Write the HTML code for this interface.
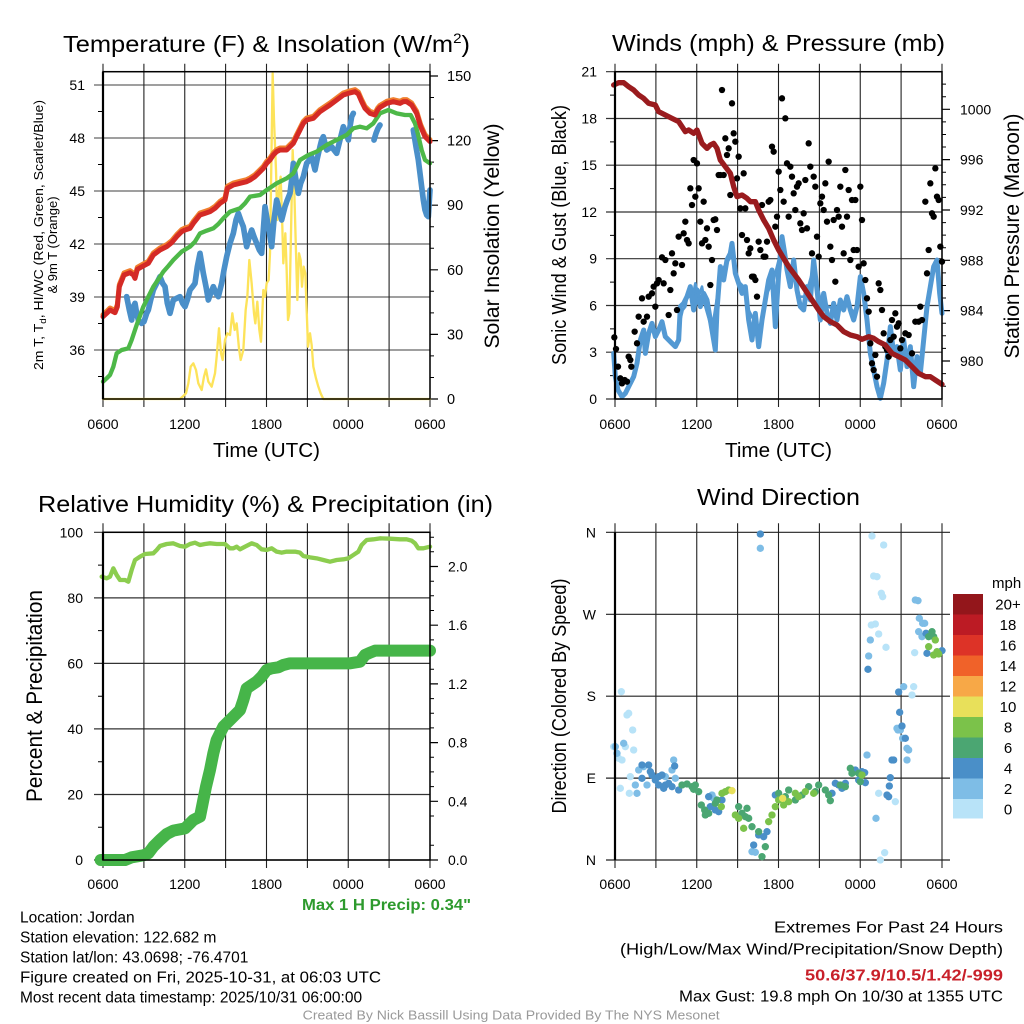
<!DOCTYPE html>
<html><head><meta charset="utf-8"><style>
html,body{margin:0;padding:0;background:#fff;}
svg{display:block;font-family:"Liberation Sans",Arial,sans-serif;}
</style></head><body>
<svg width="1024" height="1024" viewBox="0 0 1024 1024" xmlns="http://www.w3.org/2000/svg">
<rect width="1024" height="1024" fill="#fff"/>

<!-- ============ TOP LEFT: Temperature ============ -->
<g fill="none">
<path stroke="#666" stroke-width="1.3" d="M94 85H430M94 138H430M94 191H430M94 244H430M94 297H430M94 350H430"/>
<path stroke="#000" stroke-width="1" d="M98 111.5H103M98 164.5H103M98 217.5H103M98 270.5H103M98 323.5H103M98 376.5H103"/>
<path stroke="#000" stroke-width="1.2" d="M430 76H438M430 140.6H438M430 205.2H438M430 269.8H438M430 334.4H438M430 399H438"/>
<path stroke="#000" stroke-width="1" d="M430 97.5H434M430 119.1H434M430 162.1H434M430 183.7H434M430 226.7H434M430 248.3H434M430 291.3H434M430 312.9H434M430 355.9H434M430 377.5H434"/>
<path stroke="#222" stroke-width="1.1" d="M103 63.7V407M143.9 63.7V407M184.75 63.7V407M225.6 63.7V407M266.5 63.7V407M307.4 63.7V407M348.25 63.7V407M389.1 63.7V407M430 63.7V407"/>
</g>
<g transform="translate(0,20) scale(0.33333)" fill="none" stroke-linejoin="round" stroke-linecap="round">
<polyline stroke="#fde35a" stroke-width="7" points="309,1137 540,1137 550,1128 558,1120 565,1090 572,1040 580,1030 588,1050 595,1090 605,1110 612,1070 618,1048 625,1085 635,1100 645,1060 650,1010 657,925 663,1000 668,1020 675,960 682,940 690,945 697,880 704,930 710,910 717,985 722,1020 730,990 737,870 742,830 748,720 755,790 762,880 766,910 772,845 778,930 783,965 790,810 795,830 800,790 806,780 810,700 813,500 818,160 822,300 828,450 832,600 838,500 842,470 847,620 850,730 856,640 860,750 864,900 868,880 873,640 878,390 882,480 887,660 892,840 897,700 902,720 906,800 911,740 916,760 920,870 924,980 930,940 935,975 940,1040 948,1075 955,1100 962,1120 970,1137 1290,1137"/>
<g stroke="#4a8fc9" stroke-width="17">
<polyline points="380,830 388,870 395,900 400,860 405,850 410,880 415,900 425,910 432,905 440,880 445,870 452,840 460,810 470,790 480,770 488,790 495,800 502,850 510,880 515,860 520,840 530,835 540,830 548,850 555,860 562,840 570,810 578,800 585,790 592,740 600,700 605,730 610,760 618,800 625,840 632,820 640,800 648,820 655,830 660,810 665,790 672,750 680,710 690,670 700,640 708,600 715,580 722,600 730,620 735,650 740,680 748,650 755,630 762,650 770,670 778,690 785,700 790,630 795,560 800,590 805,620 810,650 815,680 822,600 830,540 838,570 845,600 850,580 855,560 862,540 870,520 875,480 880,430 888,480 895,520 902,490 910,470 915,450 920,430 928,420 935,410 940,430 945,450 952,415 960,380 965,360 970,350 975,370 980,390 988,385 995,380 1002,390 1010,400 1015,380 1020,360 1025,340 1030,320 1038,340 1045,360 1050,320 1055,290 1060,280"/>
<polyline points="1122,360 1128,340 1134,325 1140,315"/>
<polyline points="1240,330 1248,380 1255,420 1260,460 1265,500 1270,540 1275,570 1280,585 1285,590 1290,510"/>
</g>
<polyline stroke="#4db848" stroke-width="13" points="309,1085 320,1075 330,1065 340,1040 350,1000 365,990 385,985 395,960 410,915 430,860 445,830 460,800 475,778 490,755 505,738 520,720 545,695 570,680 585,665 600,640 620,632 640,625 655,612 670,595 690,575 720,565 735,550 750,530 780,525 800,510 815,500 830,490 860,475 880,460 890,440 900,420 925,405 950,395 965,385 980,375 1010,360 1040,345 1060,325 1080,320 1100,325 1120,310 1130,295 1140,280 1165,270 1190,280 1215,285 1232,285 1245,310 1252,335 1258,360 1265,390 1275,420 1290,430"/>
<polyline transform="translate(0,-6)" stroke="#f07f2e" stroke-width="15" points="309,890 320,880 330,870 345,878 352,860 358,800 372,765 390,758 400,765 405,775 412,748 430,738 445,730 460,705 480,690 500,680 515,668 530,650 545,635 555,630 570,625 580,610 600,585 615,580 630,575 645,565 660,550 675,540 682,505 700,495 720,490 740,485 750,480 765,470 775,460 790,445 800,430 810,420 820,405 830,395 840,390 860,390 870,380 880,370 890,350 900,330 910,310 920,300 940,295 960,275 975,265 990,255 1010,240 1030,225 1045,220 1065,215 1075,222 1085,245 1095,265 1110,280 1125,285 1133,270 1140,262 1160,250 1180,245 1200,250 1210,245 1220,245 1235,255 1250,280 1262,320 1275,350 1290,365"/>
<polyline stroke="#d42a26" stroke-width="15" points="309,890 320,880 330,870 345,878 352,860 358,800 372,765 390,758 400,765 405,775 412,748 430,738 445,730 460,705 480,690 500,680 515,668 530,650 545,635 555,630 570,625 580,610 600,585 615,580 630,575 645,565 660,550 675,540 682,505 700,495 720,490 740,485 750,480 765,470 775,460 790,445 800,430 810,420 820,405 830,395 840,390 860,390 870,380 880,370 890,350 900,330 910,310 920,300 940,295 960,275 975,265 990,255 1010,240 1030,225 1045,220 1065,215 1075,222 1085,245 1095,265 1110,280 1125,285 1133,270 1140,262 1160,250 1180,245 1200,250 1210,245 1220,245 1235,255 1250,280 1262,320 1275,350 1290,365"/>
</g>
<rect x="103" y="71.7" width="327" height="327.3" fill="none" stroke="#000" stroke-width="1.5"/>
<line x1="103" y1="71.7" x2="103" y2="399" stroke="#000" stroke-width="2.2"/>

<g font-size="14" fill="#000" text-anchor="end">
<text x="85" y="90">51</text><text x="85" y="143">48</text><text x="85" y="196">45</text><text x="85" y="249">42</text><text x="85" y="302">39</text><text x="85" y="355">36</text>
</g>
<g font-size="14.5" fill="#000">
<text x="447" y="81">150</text><text x="447" y="145.6">120</text><text x="447" y="210.2">90</text><text x="447" y="274.8">60</text><text x="447" y="339.4">30</text><text x="447" y="404">0</text>
</g>
<g font-size="14" fill="#000" text-anchor="middle">
<text x="103" y="429">0600</text><text x="184.75" y="429">1200</text><text x="266.5" y="429">1800</text><text x="348.25" y="429">0000</text><text x="430" y="429">0600</text>
</g>
<text x="266.5" y="457" font-size="20.5" text-anchor="middle" textLength="107" lengthAdjust="spacingAndGlyphs">Time (UTC)</text>
<text x="63" y="52" font-size="23.5" textLength="407" lengthAdjust="spacingAndGlyphs">Temperature (F) &amp; Insolation (W/m<tspan dy="-9" font-size="14">2</tspan><tspan dy="9">)</tspan></text>
<text transform="translate(43,235) rotate(-90)" font-size="13" text-anchor="middle" textLength="270" lengthAdjust="spacingAndGlyphs">2m T, T<tspan dy="3" font-size="9">d</tspan><tspan dy="-3">, HI/WC (Red, Green, Scarlet/Blue)</tspan></text>
<text transform="translate(57,245) rotate(-90)" font-size="13" text-anchor="middle">&amp; 9m T (Orange)</text>
<text transform="translate(499,236) rotate(-90)" font-size="21" text-anchor="middle" textLength="225" lengthAdjust="spacingAndGlyphs">Solar Insolation (Yellow)</text>

<!-- ============ TOP RIGHT: Winds ============ -->
<g fill="none">
<path stroke="#333" stroke-width="1.2" d="M606 71.7H942M606 118.5H942M606 165.2H942M606 212H942M606 258.7H942M606 305.5H942M606 352.2H942M606 399H942"/>
<path stroke="#000" stroke-width="1" d="M610 95.1H615M610 141.9H615M610 188.6H615M610 235.4H615M610 282.1H615M610 328.9H615M610 375.6H615"/>
<path stroke="#000" stroke-width="1.2" d="M942 109.3H950M942 159.6H950M942 210H950M942 260.3H950M942 310.6H950M942 361H950"/>
<path stroke="#000" stroke-width="1" d="M942 84.1H946M942 96.7H946M942 121.9H946M942 134.5H946M942 147H946M942 172.2H946M942 184.8H946M942 197.4H946M942 222.6H946M942 235.1H946M942 247.7H946M942 272.9H946M942 285.5H946M942 298H946M942 323.2H946M942 335.8H946M942 348.4H946M942 373.6H946M942 386.2H946"/>
<path stroke="#222" stroke-width="1.1" d="M615 63.7V407M655.9 63.7V407M696.75 63.7V407M737.6 63.7V407M778.5 63.7V407M819.4 63.7V407M860.25 63.7V407M901.1 63.7V407M942 63.7V407"/>
</g>
<g transform="translate(512,20) scale(0.33333)" stroke-linejoin="round" stroke-linecap="round">
<polyline fill="none" stroke="#5399d3" stroke-width="15" points="305,1000 310,1070 318,1110 330,1130 340,1120 350,1100 365,1070 375,1030 385,960 395,930 400,1000 410,940 420,910 430,950 440,930 450,905 460,950 470,960 480,970 490,980 500,960 505,860 515,850 525,830 535,800 545,870 555,810 565,860 575,820 585,840 595,900 605,960 610,990 615,870 625,740 635,780 645,720 655,700 660,670 670,760 680,790 690,820 700,800 710,900 720,960 730,880 740,980 750,900 760,840 770,780 780,750 790,920 800,760 810,650 818,700 825,750 835,800 845,720 855,810 865,860 875,870 885,800 895,840 905,720 915,810 925,900 935,820 945,880 955,910 965,850 975,900 985,840 995,870 1005,830 1015,870 1025,900 1035,860 1045,770 1055,820 1065,900 1075,1000 1085,1050 1095,1100 1105,1135 1115,1090 1125,1020 1135,920 1145,1000 1155,980 1165,1050 1175,960 1185,1040 1195,980 1205,1100 1215,1010 1225,1060 1235,960 1245,860 1255,800 1265,740 1275,720 1283,820 1290,880"/>
<polyline fill="none" stroke="#5399d3" stroke-width="8" points="505,900 512,870 520,860 528,820 540,840 550,790 560,830 570,800 580,860 600,930 620,800 630,750 650,720 665,700 675,780 695,800 705,860 725,900 745,930 765,820 785,780 805,700 815,690 830,770 850,760 860,830 880,830 900,760 910,770 930,860 950,860 970,870 990,850 1010,860 1030,880 1045,800"/>
<g fill="#000">
<circle cx="307" cy="952" r="9.5"/><circle cx="312" cy="987" r="9.5"/><circle cx="318" cy="1040" r="9.5"/><circle cx="325" cy="1075" r="9.5"/><circle cx="330" cy="1090" r="9.5"/><circle cx="338" cy="1080" r="9.5"/><circle cx="345" cy="1085" r="9.5"/><circle cx="350" cy="1010" r="9.5"/><circle cx="355" cy="1020" r="9.5"/><circle cx="358" cy="1040" r="9.5"/><circle cx="368" cy="935" r="9.5"/><circle cx="375" cy="970" r="9.5"/><circle cx="380" cy="890" r="9.5"/><circle cx="390" cy="835" r="9.5"/><circle cx="395" cy="905" r="9.5"/><circle cx="405" cy="890" r="9.5"/><circle cx="410" cy="830" r="9.5"/><circle cx="420" cy="820" r="9.5"/><circle cx="425" cy="800" r="9.5"/><circle cx="430" cy="860" r="9.5"/><circle cx="435" cy="790" r="9.5"/><circle cx="440" cy="780" r="9.5"/><circle cx="450" cy="712" r="9.5"/><circle cx="455" cy="790" r="9.5"/><circle cx="460" cy="720" r="9.5"/><circle cx="470" cy="885" r="9.5"/><circle cx="475" cy="810" r="9.5"/><circle cx="480" cy="700" r="9.5"/><circle cx="485" cy="760" r="9.5"/><circle cx="490" cy="730" r="9.5"/><circle cx="495" cy="870" r="9.5"/><circle cx="500" cy="650" r="9.5"/><circle cx="510" cy="735" r="9.5"/><circle cx="515" cy="640" r="9.5"/><circle cx="520" cy="605" r="9.5"/><circle cx="525" cy="660" r="9.5"/><circle cx="530" cy="670" r="9.5"/><circle cx="535" cy="505" r="9.5"/><circle cx="540" cy="555" r="9.5"/><circle cx="545" cy="420" r="9.5"/><circle cx="550" cy="530" r="9.5"/><circle cx="555" cy="430" r="9.5"/><circle cx="560" cy="505" r="9.5"/><circle cx="565" cy="605" r="9.5"/><circle cx="570" cy="670" r="9.5"/><circle cx="575" cy="545" r="9.5"/><circle cx="580" cy="660" r="9.5"/><circle cx="585" cy="625" r="9.5"/><circle cx="590" cy="680" r="9.5"/><circle cx="595" cy="795" r="9.5"/><circle cx="600" cy="720" r="9.5"/><circle cx="605" cy="600" r="9.5"/><circle cx="610" cy="598" r="9.5"/><circle cx="615" cy="630" r="9.5"/><circle cx="620" cy="465" r="9.5"/><circle cx="625" cy="465" r="9.5"/><circle cx="630" cy="210" r="9.5"/><circle cx="635" cy="465" r="9.5"/><circle cx="640" cy="355" r="9.5"/><circle cx="645" cy="405" r="9.5"/><circle cx="650" cy="385" r="9.5"/><circle cx="655" cy="525" r="9.5"/><circle cx="660" cy="250" r="9.5"/><circle cx="665" cy="340" r="9.5"/><circle cx="670" cy="365" r="9.5"/><circle cx="675" cy="475" r="9.5"/><circle cx="680" cy="410" r="9.5"/><circle cx="685" cy="565" r="9.5"/><circle cx="690" cy="645" r="9.5"/><circle cx="695" cy="460" r="9.5"/><circle cx="700" cy="565" r="9.5"/><circle cx="705" cy="660" r="9.5"/><circle cx="710" cy="700" r="9.5"/><circle cx="715" cy="685" r="9.5"/><circle cx="720" cy="770" r="9.5"/><circle cx="725" cy="770" r="9.5"/><circle cx="730" cy="780" r="9.5"/><circle cx="735" cy="830" r="9.5"/><circle cx="740" cy="665" r="9.5"/><circle cx="745" cy="690" r="9.5"/><circle cx="750" cy="555" r="9.5"/><circle cx="755" cy="710" r="9.5"/><circle cx="760" cy="710" r="9.5"/><circle cx="765" cy="665" r="9.5"/><circle cx="770" cy="545" r="9.5"/><circle cx="775" cy="540" r="9.5"/><circle cx="780" cy="380" r="9.5"/><circle cx="785" cy="395" r="9.5"/><circle cx="790" cy="620" r="9.5"/><circle cx="795" cy="590" r="9.5"/><circle cx="800" cy="455" r="9.5"/><circle cx="805" cy="510" r="9.5"/><circle cx="810" cy="235" r="9.5"/><circle cx="815" cy="545" r="9.5"/><circle cx="820" cy="295" r="9.5"/><circle cx="825" cy="430" r="9.5"/><circle cx="830" cy="590" r="9.5"/><circle cx="835" cy="440" r="9.5"/><circle cx="840" cy="470" r="9.5"/><circle cx="845" cy="520" r="9.5"/><circle cx="850" cy="570" r="9.5"/><circle cx="855" cy="500" r="9.5"/><circle cx="860" cy="490" r="9.5"/><circle cx="865" cy="610" r="9.5"/><circle cx="870" cy="630" r="9.5"/><circle cx="875" cy="580" r="9.5"/><circle cx="880" cy="480" r="9.5"/><circle cx="885" cy="625" r="9.5"/><circle cx="890" cy="370" r="9.5"/><circle cx="895" cy="440" r="9.5"/><circle cx="900" cy="700" r="9.5"/><circle cx="905" cy="470" r="9.5"/><circle cx="910" cy="500" r="9.5"/><circle cx="915" cy="650" r="9.5"/><circle cx="920" cy="710" r="9.5"/><circle cx="925" cy="550" r="9.5"/><circle cx="930" cy="530" r="9.5"/><circle cx="935" cy="570" r="9.5"/><circle cx="940" cy="490" r="9.5"/><circle cx="945" cy="605" r="9.5"/><circle cx="950" cy="425" r="9.5"/><circle cx="955" cy="680" r="9.5"/><circle cx="960" cy="720" r="9.5"/><circle cx="965" cy="600" r="9.5"/><circle cx="970" cy="785" r="9.5"/><circle cx="975" cy="570" r="9.5"/><circle cx="980" cy="590" r="9.5"/><circle cx="985" cy="500" r="9.5"/><circle cx="990" cy="620" r="9.5"/><circle cx="995" cy="700" r="9.5"/><circle cx="1000" cy="450" r="9.5"/><circle cx="1005" cy="590" r="9.5"/><circle cx="1010" cy="510" r="9.5"/><circle cx="1015" cy="720" r="9.5"/><circle cx="1020" cy="540" r="9.5"/><circle cx="1025" cy="690" r="9.5"/><circle cx="1030" cy="540" r="9.5"/><circle cx="1035" cy="690" r="9.5"/><circle cx="1040" cy="740" r="9.5"/><circle cx="1045" cy="500" r="9.5"/><circle cx="1050" cy="600" r="9.5"/><circle cx="1055" cy="730" r="9.5"/><circle cx="1060" cy="780" r="9.5"/><circle cx="1065" cy="835" r="9.5"/><circle cx="1070" cy="875" r="9.5"/><circle cx="1075" cy="970" r="9.5"/><circle cx="1080" cy="1030" r="9.5"/><circle cx="1085" cy="1050" r="9.5"/><circle cx="1090" cy="1005" r="9.5"/><circle cx="1095" cy="1070" r="9.5"/><circle cx="1100" cy="790" r="9.5"/><circle cx="1105" cy="810" r="9.5"/><circle cx="1110" cy="870" r="9.5"/><circle cx="1115" cy="940" r="9.5"/><circle cx="1120" cy="980" r="9.5"/><circle cx="1125" cy="990" r="9.5"/><circle cx="1130" cy="1010" r="9.5"/><circle cx="1135" cy="960" r="9.5"/><circle cx="1140" cy="900" r="9.5"/><circle cx="1145" cy="950" r="9.5"/><circle cx="1150" cy="880" r="9.5"/><circle cx="1155" cy="920" r="9.5"/><circle cx="1160" cy="910" r="9.5"/><circle cx="1165" cy="985" r="9.5"/><circle cx="1170" cy="960" r="9.5"/><circle cx="1180" cy="940" r="9.5"/><circle cx="1190" cy="945" r="9.5"/><circle cx="1200" cy="1000" r="9.5"/><circle cx="1210" cy="905" r="9.5"/><circle cx="1220" cy="905" r="9.5"/><circle cx="1225" cy="860" r="9.5"/><circle cx="1230" cy="900" r="9.5"/><circle cx="1240" cy="545" r="9.5"/><circle cx="1245" cy="760" r="9.5"/><circle cx="1250" cy="690" r="9.5"/><circle cx="1255" cy="490" r="9.5"/><circle cx="1260" cy="580" r="9.5"/><circle cx="1265" cy="590" r="9.5"/><circle cx="1270" cy="445" r="9.5"/><circle cx="1275" cy="530" r="9.5"/><circle cx="1280" cy="540" r="9.5"/><circle cx="1285" cy="680" r="9.5"/><circle cx="1290" cy="725" r="9.5"/>
</g>
<polyline fill="none" stroke="#9a1b1e" stroke-width="16" points="305,195 320,188 335,188 350,200 365,210 380,225 395,235 410,250 430,255 440,275 460,285 480,295 500,305 510,320 520,335 530,330 545,340 555,330 570,370 585,385 595,375 605,370 615,385 625,420 640,440 655,460 665,500 675,530 690,525 705,535 715,545 730,545 740,570 755,600 770,625 785,660 800,690 815,715 830,740 845,760 860,780 880,810 900,840 920,870 935,890 955,905 975,915 995,935 1015,945 1035,950 1050,958 1070,950 1085,955 1100,965 1120,975 1140,1000 1160,1010 1180,1020 1200,1040 1220,1060 1240,1070 1255,1070 1270,1080 1290,1093"/>
</g>
<rect x="615" y="71.7" width="327" height="327.3" fill="none" stroke="#000" stroke-width="1.5"/>
<line x1="615" y1="71.7" x2="615" y2="399" stroke="#000" stroke-width="2.2"/>

<g font-size="14" fill="#000" text-anchor="end">
<text x="597" y="76.7">21</text><text x="597" y="123.5">18</text><text x="597" y="170.2">15</text><text x="597" y="217">12</text><text x="597" y="263.7">9</text><text x="597" y="310.5">6</text><text x="597" y="357.2">3</text><text x="597" y="404">0</text>
</g>
<g font-size="14" fill="#000">
<text x="960" y="114.3">1000</text><text x="960" y="164.6">996</text><text x="960" y="215">992</text><text x="960" y="265.3">988</text><text x="960" y="315.6">984</text><text x="960" y="366">980</text>
</g>
<g font-size="14" fill="#000" text-anchor="middle">
<text x="615" y="429">0600</text><text x="696.75" y="429">1200</text><text x="778.5" y="429">1800</text><text x="860.25" y="429">0000</text><text x="942" y="429">0600</text>
</g>
<text x="778.5" y="457" font-size="20.5" text-anchor="middle" textLength="107" lengthAdjust="spacingAndGlyphs">Time (UTC)</text>
<text x="778.5" y="51" font-size="23.5" text-anchor="middle" textLength="333" lengthAdjust="spacingAndGlyphs">Winds (mph) &amp; Pressure (mb)</text>
<text transform="translate(566,235) rotate(-90)" font-size="20" text-anchor="middle" textLength="260" lengthAdjust="spacingAndGlyphs">Sonic Wind &amp; Gust (Blue, Black)</text>
<text transform="translate(1019,236) rotate(-90)" font-size="21" text-anchor="middle" textLength="245" lengthAdjust="spacingAndGlyphs">Station Pressure (Maroon)</text>

<!-- ============ BOTTOM LEFT: RH & Precip ============ -->
<g fill="none">
<path stroke="#333" stroke-width="1.2" d="M94 532.3H430M94 597.9H430M94 663.4H430M94 728.9H430M94 794.5H430M94 860H430"/>
<path stroke="#000" stroke-width="1" d="M98 565.1H103M98 630.6H103M98 696.2H103M98 761.7H103M98 827.2H103"/>
<path stroke="#000" stroke-width="1.2" d="M430 566.5H438M430 625.2H438M430 683.9H438M430 742.6H438M430 801.3H438M430 860H438"/>
<path stroke="#000" stroke-width="1" d="M430 845.3H434M430 816H434M430 786.6H434M430 771.9H434M430 757.3H434M430 727.9H434M430 713.2H434M430 698.6H434M430 669.2H434M430 654.5H434M430 639.9H434M430 610.5H434M430 595.8H434M430 581.2H434M430 551.8H434M430 537.2H434"/>
<path stroke="#222" stroke-width="1.1" d="M103 523.3V868M143.9 523.3V868M184.75 523.3V868M225.6 523.3V868M266.5 523.3V868M307.4 523.3V868M348.25 523.3V868M389.1 523.3V868M430 523.3V868"/>
</g>
<g transform="translate(0,480) scale(0.33333)" fill="none" stroke-linejoin="round" stroke-linecap="round">
<polyline stroke="#8ccd4f" stroke-width="13" points="305,290 320,295 330,290 340,265 350,285 360,300 375,300 385,305 395,270 405,240 420,230 435,222 460,220 470,210 480,198 500,192 520,190 540,198 555,200 570,192 585,188 600,195 615,192 630,190 650,192 675,192 690,205 700,205 710,200 720,208 735,200 755,190 770,195 785,208 800,210 815,205 830,215 845,218 860,215 885,215 900,218 910,228 930,232 950,235 970,240 990,245 1010,240 1030,238 1045,235 1060,225 1075,215 1085,195 1100,180 1120,178 1140,175 1170,176 1200,178 1220,178 1235,182 1245,190 1255,205 1270,205 1290,200"/>
<polyline stroke="#46b549" stroke-width="36" points="302,1140 330,1140 375,1140 395,1132 430,1126 445,1120 460,1100 480,1080 500,1062 520,1052 555,1045 570,1030 580,1020 600,1010 608,970 618,920 630,870 640,820 650,780 660,760 670,740 690,720 705,705 720,690 730,660 740,625 755,615 770,605 785,590 800,570 815,565 835,562 850,555 870,550 900,550 950,550 1000,550 1050,550 1080,545 1095,525 1110,518 1125,512 1150,512 1200,512 1250,512 1290,512"/>
</g>
<rect x="103" y="532.3" width="327" height="327.7" fill="none" stroke="#000" stroke-width="1.5"/>
<line x1="103" y1="532.3" x2="103" y2="860" stroke="#000" stroke-width="2.2"/>

<g font-size="14" fill="#000" text-anchor="end">
<text x="83" y="537.3">100</text><text x="83" y="602.9">80</text><text x="83" y="668.4">60</text><text x="83" y="733.9">40</text><text x="83" y="799.5">20</text><text x="83" y="865">0</text>
</g>
<g font-size="14" fill="#000">
<text x="448" y="571.5">2.0</text><text x="448" y="630.2">1.6</text><text x="448" y="688.9">1.2</text><text x="448" y="747.6">0.8</text><text x="448" y="806.3">0.4</text><text x="448" y="865">0.0</text>
</g>
<g font-size="14" fill="#000" text-anchor="middle">
<text x="103" y="889">0600</text><text x="184.75" y="889">1200</text><text x="266.5" y="889">1800</text><text x="348.25" y="889">0000</text><text x="430" y="889">0600</text>
</g>
<text x="38" y="512" font-size="23.5" textLength="455" lengthAdjust="spacingAndGlyphs">Relative Humidity (%) &amp; Precipitation (in)</text>
<text transform="translate(42,696) rotate(-90)" font-size="22" text-anchor="middle" textLength="212" lengthAdjust="spacingAndGlyphs">Percent &amp; Precipitation</text>
<text x="471" y="910" font-size="16" font-weight="bold" fill="#2d9a2d" text-anchor="end" textLength="169" lengthAdjust="spacingAndGlyphs">Max 1 H Precip: 0.34"</text>

<!-- ============ BOTTOM RIGHT: Wind Direction ============ -->
<g fill="none">
<path stroke="#222" stroke-width="1.2" d="M606 532.3H950M606 614.3H950M606 696.2H950M606 778.1H950M606 860H950"/>
<path stroke="#222" stroke-width="1.1" d="M615 523.3V868M655.9 523.3V868M696.75 523.3V868M737.6 523.3V868M778.5 523.3V868M819.4 523.3V868M860.25 523.3V868M901.1 523.3V868M942 523.3V868"/>
</g>
<g transform="translate(512,480) scale(0.33333)">
<g fill="#b8e3f8">
<circle cx="328" cy="635" r="11"/><circle cx="345" cy="705" r="11"/><circle cx="350" cy="700" r="11"/><circle cx="362" cy="750" r="11"/><circle cx="305" cy="800" r="11"/><circle cx="320" cy="835" r="11"/><circle cx="330" cy="840" r="11"/><circle cx="340" cy="800" r="11"/><circle cx="365" cy="810" r="11"/><circle cx="355" cy="890" r="11"/><circle cx="325" cy="925" r="11"/><circle cx="352" cy="940" r="11"/><circle cx="1080" cy="168" r="11"/><circle cx="1115" cy="195" r="11"/><circle cx="1085" cy="288" r="11"/><circle cx="1095" cy="290" r="11"/><circle cx="1108" cy="340" r="11"/><circle cx="1112" cy="350" r="11"/><circle cx="1078" cy="435" r="11"/><circle cx="1090" cy="432" r="11"/><circle cx="1100" cy="462" r="11"/><circle cx="1122" cy="502" r="11"/><circle cx="1100" cy="940" r="11"/><circle cx="1150" cy="965" r="11"/><circle cx="1118" cy="1118" r="11"/><circle cx="1105" cy="1140" r="11"/><circle cx="1208" cy="518" r="11"/><circle cx="1205" cy="620" r="11"/><circle cx="1200" cy="645" r="11"/>
</g>
<g fill="#7ebde6">
<circle cx="310" cy="800" r="11"/><circle cx="315" cy="820" r="11"/><circle cx="335" cy="790" r="11"/><circle cx="370" cy="915" r="11"/><circle cx="375" cy="940" r="11"/><circle cx="405" cy="915" r="11"/><circle cx="395" cy="860" r="11"/><circle cx="380" cy="870" r="11"/><circle cx="485" cy="840" r="11"/><circle cx="480" cy="870" r="11"/><circle cx="745" cy="205" r="11"/><circle cx="1075" cy="480" r="11"/><circle cx="1070" cy="528" r="11"/><circle cx="1065" cy="825" r="11"/><circle cx="1155" cy="745" r="11"/><circle cx="1165" cy="750" r="11"/><circle cx="1172" cy="775" r="11"/><circle cx="1185" cy="805" r="11"/><circle cx="1190" cy="810" r="11"/><circle cx="1185" cy="840" r="11"/><circle cx="1210" cy="360" r="11"/><circle cx="1218" cy="362" r="11"/><circle cx="1222" cy="415" r="11"/><circle cx="1232" cy="430" r="11"/><circle cx="1238" cy="430" r="11"/><circle cx="1220" cy="455" r="11"/><circle cx="1230" cy="470" r="11"/><circle cx="1092" cy="1015" r="11"/><circle cx="1175" cy="620" r="11"/><circle cx="1158" cy="750" r="11"/><circle cx="600" cy="945" r="11"/><circle cx="605" cy="955" r="11"/><circle cx="720" cy="1115" r="11"/><circle cx="730" cy="1117" r="11"/><circle cx="460" cy="890" r="11"/><circle cx="490" cy="895" r="11"/>
</g>
<g fill="#4a8fc8">
<circle cx="745" cy="162" r="11"/><circle cx="1068" cy="568" r="11"/><circle cx="1160" cy="636" r="11"/><circle cx="1163" cy="697" r="11"/><circle cx="1170" cy="738" r="11"/><circle cx="1180" cy="775" r="11"/><circle cx="1140" cy="840" r="11"/><circle cx="1145" cy="840" r="11"/><circle cx="1135" cy="893" r="11"/><circle cx="1132" cy="918" r="11"/><circle cx="1125" cy="945" r="11"/><circle cx="1130" cy="950" r="11"/><circle cx="1242" cy="460" r="11"/><circle cx="1245" cy="520" r="11"/><circle cx="1290" cy="512" r="11"/><circle cx="390" cy="855" r="11"/><circle cx="410" cy="855" r="11"/><circle cx="415" cy="875" r="11"/><circle cx="390" cy="895" r="11"/><circle cx="420" cy="885" r="11"/><circle cx="430" cy="900" r="11"/><circle cx="440" cy="890" r="11"/><circle cx="450" cy="885" r="11"/><circle cx="460" cy="915" r="11"/><circle cx="470" cy="910" r="11"/><circle cx="480" cy="920" r="11"/><circle cx="500" cy="930" r="11"/><circle cx="440" cy="915" r="11"/><circle cx="455" cy="925" r="11"/><circle cx="488" cy="858" r="11"/><circle cx="590" cy="950" r="11"/><circle cx="595" cy="980" r="11"/><circle cx="610" cy="990" r="11"/><circle cx="620" cy="995" r="11"/><circle cx="725" cy="1095" r="11"/><circle cx="740" cy="1065" r="11"/><circle cx="755" cy="1070" r="11"/><circle cx="765" cy="1055" r="11"/><circle cx="790" cy="945" r="11"/><circle cx="1030" cy="870" r="11"/><circle cx="1040" cy="900" r="11"/><circle cx="1050" cy="875" r="11"/><circle cx="1058" cy="878" r="11"/><circle cx="1060" cy="908" r="11"/><circle cx="970" cy="910" r="11"/><circle cx="980" cy="915" r="11"/><circle cx="990" cy="925" r="11"/><circle cx="1000" cy="910" r="11"/><circle cx="960" cy="940" r="11"/><circle cx="630" cy="960" r="11"/>
</g>
<g fill="#4ba672">
<circle cx="510" cy="915" r="11"/><circle cx="525" cy="912" r="11"/><circle cx="540" cy="920" r="11"/><circle cx="550" cy="915" r="11"/><circle cx="545" cy="928" r="11"/><circle cx="560" cy="935" r="11"/><circle cx="568" cy="975" r="11"/><circle cx="578" cy="990" r="11"/><circle cx="580" cy="1005" r="11"/><circle cx="590" cy="1000" r="11"/><circle cx="610" cy="970" r="11"/><circle cx="680" cy="980" r="11"/><circle cx="690" cy="1000" r="11"/><circle cx="700" cy="1010" r="11"/><circle cx="710" cy="1015" r="11"/><circle cx="720" cy="1040" r="11"/><circle cx="740" cy="1055" r="11"/><circle cx="760" cy="1100" r="11"/><circle cx="750" cy="1130" r="11"/><circle cx="800" cy="940" r="11"/><circle cx="820" cy="950" r="11"/><circle cx="830" cy="930" r="11"/><circle cx="850" cy="960" r="11"/><circle cx="870" cy="945" r="11"/><circle cx="890" cy="920" r="11"/><circle cx="910" cy="935" r="11"/><circle cx="920" cy="915" r="11"/><circle cx="940" cy="930" r="11"/><circle cx="950" cy="945" r="11"/><circle cx="955" cy="962" r="11"/><circle cx="985" cy="915" r="11"/><circle cx="1000" cy="920" r="11"/><circle cx="1015" cy="865" r="11"/><circle cx="1020" cy="880" r="11"/><circle cx="1040" cy="880" r="11"/><circle cx="1045" cy="905" r="11"/><circle cx="1250" cy="470" r="11"/><circle cx="1260" cy="455" r="11"/><circle cx="1265" cy="470" r="11"/><circle cx="615" cy="960" r="11"/><circle cx="705" cy="985" r="11"/>
</g>
<g fill="#7bc24a">
<circle cx="630" cy="940" r="11"/><circle cx="640" cy="935" r="11"/><circle cx="650" cy="930" r="11"/><circle cx="628" cy="980" r="11"/><circle cx="670" cy="1005" r="11"/><circle cx="680" cy="1015" r="11"/><circle cx="695" cy="1045" r="11"/><circle cx="770" cy="1025" r="11"/><circle cx="780" cy="1005" r="11"/><circle cx="790" cy="980" r="11"/><circle cx="800" cy="960" r="11"/><circle cx="815" cy="975" r="11"/><circle cx="830" cy="965" r="11"/><circle cx="850" cy="940" r="11"/><circle cx="860" cy="950" r="11"/><circle cx="880" cy="935" r="11"/><circle cx="905" cy="940" r="11"/><circle cx="1050" cy="885" r="11"/><circle cx="1250" cy="500" r="11"/><circle cx="1270" cy="480" r="11"/><circle cx="1275" cy="515" r="11"/><circle cx="1280" cy="522" r="11"/><circle cx="1265" cy="525" r="11"/>
</g>
<g fill="#e8e05a">
<circle cx="660" cy="932" r="11"/><circle cx="812" cy="955" r="11"/>
</g>
</g>
<line x1="615" y1="532.3" x2="615" y2="860" stroke="#000" stroke-width="2.2"/>

<!-- colorbar -->
<rect x="953" y="594" width="30" height="20.5" fill="#93161b"/>
<rect x="953" y="614.5" width="30" height="20.5" fill="#bc1b24"/>
<rect x="953" y="635" width="30" height="20.5" fill="#dd3327"/>
<rect x="953" y="655.5" width="30" height="20.5" fill="#f06229"/>
<rect x="953" y="676" width="30" height="20.5" fill="#f7a847"/>
<rect x="953" y="696.5" width="30" height="20.5" fill="#e8e05a"/>
<rect x="953" y="717" width="30" height="20.5" fill="#7bc24a"/>
<rect x="953" y="737.5" width="30" height="20.5" fill="#4ba672"/>
<rect x="953" y="758" width="30" height="20.5" fill="#4a8fc8"/>
<rect x="953" y="778.5" width="30" height="20.5" fill="#7ebde6"/>
<rect x="953" y="799" width="30" height="19.5" fill="#b8e3f8"/>
<text x="992" y="588" font-size="15">mph</text>
<g font-size="15" text-anchor="middle" fill="#000">
<text x="1008" y="609.5">20+</text><text x="1008" y="630">18</text><text x="1008" y="650.5">16</text><text x="1008" y="671">14</text><text x="1008" y="691.5">12</text><text x="1008" y="712">10</text><text x="1008" y="732.5">8</text><text x="1008" y="753">6</text><text x="1008" y="773.5">4</text><text x="1008" y="794">2</text><text x="1008" y="814.5">0</text>
</g>

<g font-size="14" fill="#000" text-anchor="end">
<text x="596" y="537.3">N</text><text x="596" y="619.3">W</text><text x="596" y="701.2">S</text><text x="596" y="783.1">E</text><text x="596" y="865">N</text>
</g>
<g font-size="14" fill="#000" text-anchor="middle">
<text x="615" y="889">0600</text><text x="696.75" y="889">1200</text><text x="778.5" y="889">1800</text><text x="860.25" y="889">0000</text><text x="942" y="889">0600</text>
</g>
<text x="778.5" y="505" font-size="23" text-anchor="middle" textLength="163" lengthAdjust="spacingAndGlyphs">Wind Direction</text>
<text transform="translate(566,696) rotate(-90)" font-size="20" text-anchor="middle" textLength="235" lengthAdjust="spacingAndGlyphs">Direction (Colored By Speed)</text>

<!-- ============ Footer text ============ -->
<g font-size="15.5" fill="#000">
<text x="20" y="922.5">Location: Jordan</text>
<text x="20" y="942.5">Station elevation: 122.682 m</text>
<text x="20" y="962.5">Station lat/lon: 43.0698; -76.4701</text>
<text x="20" y="982.5" textLength="361" lengthAdjust="spacingAndGlyphs">Figure created on Fri, 2025-10-31, at 06:03 UTC</text>
<text x="20" y="1002.5">Most recent data timestamp: 2025/10/31 06:00:00</text>
</g>
<g font-size="16" fill="#000" text-anchor="end">
<text x="1003" y="932.7" textLength="229" lengthAdjust="spacingAndGlyphs">Extremes For Past 24 Hours</text>
<text x="1003" y="954.5" textLength="383" lengthAdjust="spacingAndGlyphs">(High/Low/Max Wind/Precipitation/Snow Depth)</text>
<text x="1003" y="980.7" font-weight="bold" fill="#c8202a" textLength="198" lengthAdjust="spacingAndGlyphs">50.6/37.9/10.5/1.42/-999</text>
<text x="1003" y="1001.7" font-size="15.5" textLength="324" lengthAdjust="spacingAndGlyphs">Max Gust: 19.8 mph On 10/30 at 1355 UTC</text>
</g>
<text x="302.7" y="1019.3" font-size="12.5" fill="#999" textLength="417" lengthAdjust="spacingAndGlyphs">Created By Nick Bassill Using Data Provided By The NYS Mesonet</text>
</svg>
</body></html>
